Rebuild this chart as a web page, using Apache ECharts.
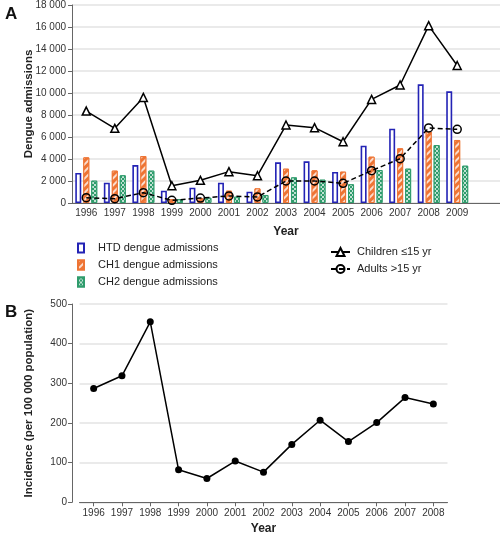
<!DOCTYPE html>
<html>
<head>
<meta charset="utf-8">
<script src="https://cdn.jsdelivr.net/npm/echarts@6/dist/echarts.min.js"></script>
<style>
html,body{margin:0;padding:0;background:#fff;}
#chart{width:500px;height:541px;}
</style>
</head>
<body>
<div id="chart"></div>
<script>
// Panel A data
const yearsA = ['1996','1997','1998','1999','2000','2001','2002','2003','2004','2005','2006','2007','2008','2009'];
const htd = [2730,1850,3450,1120,1390,1850,1030,3700,3790,2820,5210,6760,10790,10150];
const ch1 = [4150,2940,4270,350,450,1120,1330,3120,2970,2850,4210,4970,6500,5730];
const ch2 = [2030,2520,2940,340,480,570,730,2330,2120,1700,3000,3120,5270,3390];
const children = [8360,6790,9600,1570,2060,2850,2480,7090,6850,5570,9420,10730,16120,12500];
const adults = [480,390,940,240,450,640,550,2000,2000,1790,2940,4030,6820,6700];
// Panel B data
const yearsB = ['1996','1997','1998','1999','2000','2001','2002','2003','2004','2005','2006','2007','2008'];
const incidence = [287,319,455,82,60,104,76,146,207,153,201,264,248];

const FONT = '"Liberation Sans", Arial, sans-serif';
const BLUE = '#2323b5', ORANGE = '#ee7434', GREEN = '#2f9c6c';
const axisCol = '#666';
const gridCol = '#e3e3e3';
const TICK_FS = 10;

const chart = echarts.init(document.getElementById('chart'), null, {renderer: 'canvas'});
const option = {
  animation: false,
  backgroundColor: '#fff',
  textStyle: {fontFamily: FONT},
  title: [
    {text: 'A', left: 0, top: 1, textStyle: {fontSize: 17, fontWeight: 'bold', color: '#111', fontFamily: FONT}},
    {text: 'B', left: 0, top: 299, textStyle: {fontSize: 17, fontWeight: 'bold', color: '#111', fontFamily: FONT}}
  ],
  grid: [
    {left: 72, right: 0, top: 5, bottom: 338, containLabel: false},
    {left: 79.5, right: 52.5, top: 304, bottom: 38.7, containLabel: false}
  ],
  legend: [
    {
      orient: 'vertical', left: 72, top: 236, itemWidth: 6, itemHeight: 9, itemGap: 3,
      icon: 'rect',
      data: ['HTD dengue admissions', 'CH1 dengue admissions', 'CH2 dengue admissions'],
      textStyle: {fontSize: 11, color: '#222', fontFamily: FONT, padding: [0, 0, 0, 9], lineHeight: 14}
    },
    {
      orient: 'vertical', left: 325, top: 240, itemWidth: 19, itemHeight: 10, itemGap: 3,
      data: ['Children \u226415 yr', 'Adults >15 yr'],
      textStyle: {fontSize: 11, color: '#222', fontFamily: FONT, padding: [0, 0, 0, 2], lineHeight: 14}
    }
  ],
  xAxis: [
    {
      gridIndex: 0, type: 'category', data: yearsA.concat(['']), boundaryGap: true,
      name: 'Year', nameLocation: 'middle', nameGap: 23,
      nameTextStyle: {fontSize: 12, fontWeight: 'bold', color: '#222', fontFamily: FONT},
      axisLine: {lineStyle: {color: axisCol, width: 1}},
      axisTick: {show: false},
      axisLabel: {fontSize: TICK_FS, color: '#333', margin: 5, interval: 0, fontFamily: FONT}
    },
    {
      gridIndex: 1, type: 'category', data: yearsB, boundaryGap: true,
      name: 'Year', nameLocation: 'middle', nameGap: 20,
      nameTextStyle: {fontSize: 12, fontWeight: 'bold', color: '#222', fontFamily: FONT},
      axisLine: {lineStyle: {color: axisCol, width: 1}},
      axisTick: {show: true, alignWithLabel: true, length: 4, lineStyle: {color: axisCol}},
      axisLabel: {fontSize: TICK_FS, color: '#333', margin: 6, interval: 0, fontFamily: FONT}
    }
  ],
  yAxis: [
    {
      gridIndex: 0, type: 'value', min: 0, max: 18000, interval: 2000,
      name: 'Dengue admissions', nameLocation: 'middle', nameGap: 37, nameMoveOverlap: false,
      nameTextStyle: {fontSize: 11.5, fontWeight: 'bold', color: '#222', fontFamily: FONT},
      axisLine: {show: true, lineStyle: {color: axisCol, width: 1}},
      axisTick: {show: true, length: 4, lineStyle: {color: axisCol}},
      axisLabel: {fontSize: TICK_FS, color: '#333', margin: 6, fontFamily: FONT,
        formatter: v => v === 0 ? '0' : String(v).replace(/\B(?=(\d{3})+(?!\d))/g, ' ')},
      splitLine: {show: true, lineStyle: {color: gridCol, width: 1.5}}
    },
    {
      gridIndex: 1, type: 'value', min: 0, max: 500, interval: 100, offset: 7.5,
      name: 'Incidence (per 100 000 population)', nameLocation: 'middle', nameGap: 37, nameMoveOverlap: false,
      nameTextStyle: {fontSize: 11.5, fontWeight: 'bold', color: '#222', fontFamily: FONT},
      axisLine: {show: true, lineStyle: {color: axisCol, width: 1}},
      axisTick: {show: true, length: 4, lineStyle: {color: axisCol}},
      axisLabel: {fontSize: TICK_FS, color: '#333', margin: 5, fontFamily: FONT},
      splitLine: {show: true, lineStyle: {color: gridCol, width: 1.5}}
    }
  ],
  series: [
    {
      name: 'HTD dengue admissions', type: 'bar', xAxisIndex: 0, yAxisIndex: 0,
      data: htd, barWidth: 6, barGap: '33%', z: 2,
      itemStyle: {color: '#fff', borderColor: BLUE, borderWidth: 1.6}
    },
    {
      name: 'CH1 dengue admissions', type: 'bar', xAxisIndex: 0, yAxisIndex: 0,
      data: ch1, barWidth: 6, barGap: '33%', z: 2,
      itemStyle: {color: ORANGE, borderColor: ORANGE, borderWidth: 1,
        decal: {symbol: 'rect', symbolSize: 1, dashArrayX: [1, 0], dashArrayY: [1.5, 2.5],
          rotation: -Math.PI / 4, color: 'rgba(255,255,255,0.75)'}}
    },
    {
      name: 'CH2 dengue admissions', type: 'bar', xAxisIndex: 0, yAxisIndex: 0,
      data: ch2, barWidth: 6, barGap: '33%', z: 2,
      itemStyle: {color: GREEN, borderColor: GREEN, borderWidth: 1,
        decal: {symbol: 'rect', symbolSize: 1, dashArrayX: [[1.5, 1.5], [0, 1.5, 1.5, 0]], dashArrayY: [1.5, 0],
          color: 'rgba(255,255,255,0.7)'}}
    },
    {
      name: 'Children \u226415 yr', type: 'line', xAxisIndex: 0, yAxisIndex: 0,
      data: children, z: 5, symbol: 'triangle', symbolSize: 8,
      lineStyle: {color: '#000', width: 1.5},
      itemStyle: {color: '#fff', borderColor: '#000', borderWidth: 1.5}
    },
    {
      name: 'Adults >15 yr', type: 'line', xAxisIndex: 0, yAxisIndex: 0,
      data: adults, z: 5, symbol: 'circle', symbolSize: 8,
      lineStyle: {color: '#000', width: 1.5, type: [5, 3]},
      itemStyle: {color: 'rgba(255,255,255,0)', borderColor: '#000', borderWidth: 1.5}
    },
    {
      name: 'Incidence', type: 'line', xAxisIndex: 1, yAxisIndex: 1,
      data: incidence, symbol: 'circle', symbolSize: 7,
      lineStyle: {color: '#000', width: 1.5},
      itemStyle: {color: '#000'}
    }
  ]
};
chart.setOption(option);
</script>
</body>
</html>
